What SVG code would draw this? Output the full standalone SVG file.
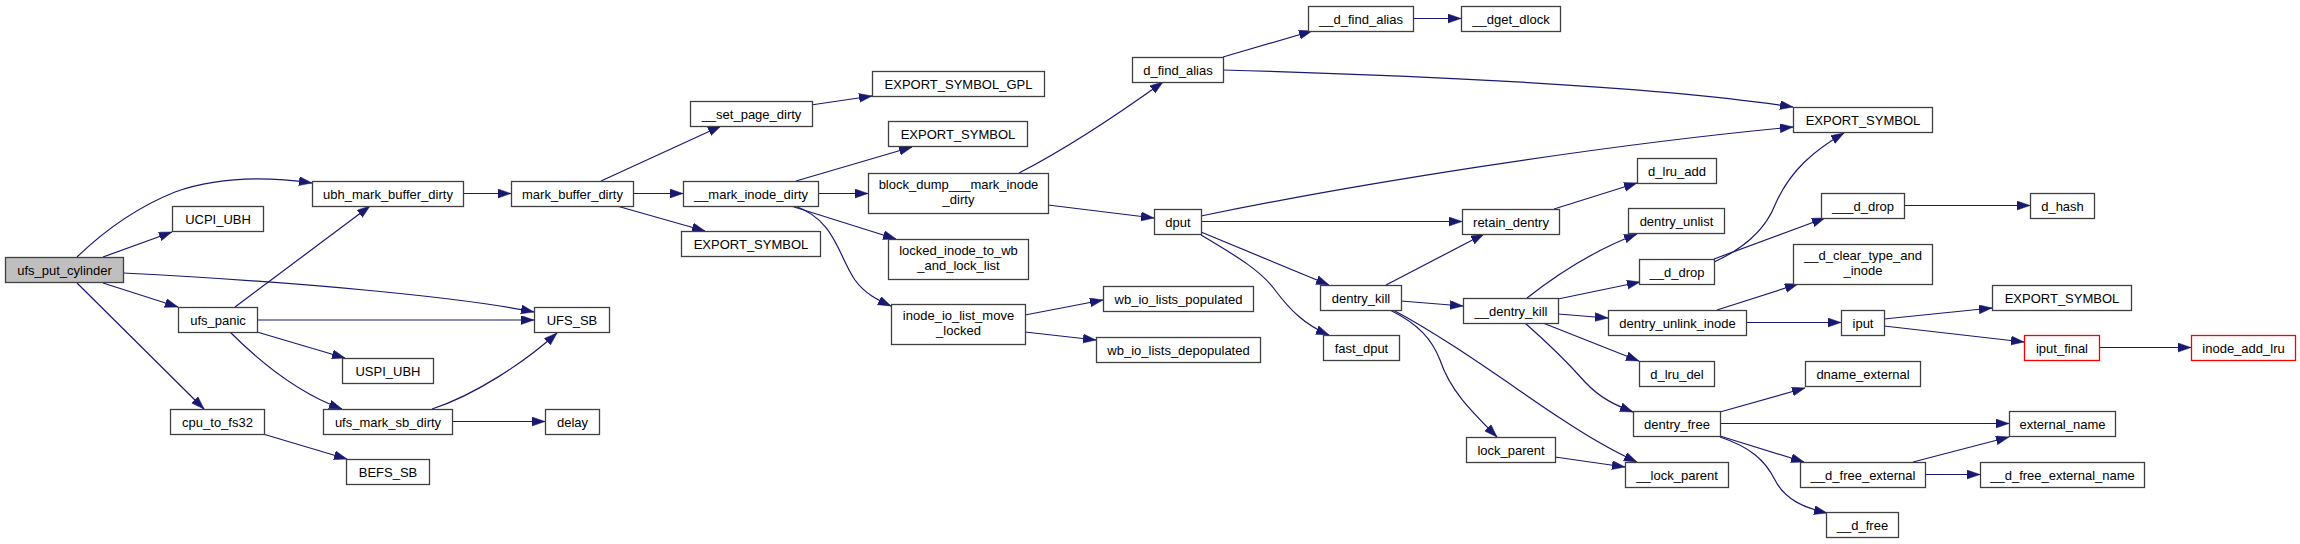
<svg xmlns="http://www.w3.org/2000/svg" width="2300" height="544" viewBox="0 0 2300 544">
<style>
.node rect{fill:#ffffff;stroke:#404040;stroke-width:1.3}
.node.root rect{fill:#bfbfbf}
.node.red rect{stroke:#ff0000}
.node text{font-family:"Liberation Sans",Arial,Helvetica,sans-serif;font-size:13px;fill:#000;text-anchor:middle}
.edges path{fill:none;stroke:#191970;stroke-width:1.2;marker-end:url(#arr)}
</style>
<defs>
<marker id="arr" markerUnits="userSpaceOnUse" markerWidth="14" markerHeight="10" refX="13" refY="4.5" orient="auto">
<path d="M0,0 L13,4.5 L0,9 Z" fill="#191970" stroke="#191970" stroke-width="0.5"/>
</marker>
</defs>
<rect width="2300" height="544" fill="#ffffff"/>
<g class="edges">
<path d="M77,257 C105,230 135,208 175,192 C220,176 270,177 312,183"/>
<path d="M103,257 L172,232"/>
<path d="M123,273 C300,282 460,297 534,312"/>
<path d="M103,283 L178,307"/>
<path d="M77,283 L204,409"/>
<path d="M235,307 L370,206"/>
<path d="M257,320 L534,320"/>
<path d="M257,332 L345,358"/>
<path d="M230,332 C250,352 290,390 342,409"/>
<path d="M432,409 C475,395 525,362 557,333"/>
<path d="M452,421.5 L545,421.5"/>
<path d="M263,434 L347,459"/>
<path d="M463,193.5 L511,193.5"/>
<path d="M601,181 L721,126"/>
<path d="M623,193.5 L683,193.5"/>
<path d="M617,206 L705,231"/>
<path d="M811,105 L872,96"/>
<path d="M796,181 L912,147"/>
<path d="M818,193.5 L868,193.5"/>
<path d="M791,206 L896,239"/>
<path d="M795,206 C835,220 838,255 855,280 C865,294 878,300 891,306"/>
<path d="M1025,315 L1103,300"/>
<path d="M1025,332 L1096,340"/>
<path d="M1019,173 C1060,152 1110,120 1163,82"/>
<path d="M1048,205 L1154,218"/>
<path d="M1223,57 L1312,31"/>
<path d="M1223,70 C1400,75 1650,85 1793,107"/>
<path d="M1413,18.5 L1461,18.5"/>
<path d="M1201,216 C1350,185 1600,145 1793,127"/>
<path d="M1201,221.5 L1462,221.5"/>
<path d="M1201,232 L1329,285"/>
<path d="M1201,235 C1240,258 1262,272 1275,290 C1290,310 1305,325 1329,335"/>
<path d="M1386,285 L1484,234"/>
<path d="M1401,301 L1463,306"/>
<path d="M1390,310 C1420,325 1432,340 1440,360 C1450,390 1470,410 1497,437"/>
<path d="M1393,310 C1450,340 1520,392 1560,418 C1590,438 1615,452 1637,462"/>
<path d="M1554,209 L1637,183"/>
<path d="M1527,298 C1560,272 1595,250 1637,234"/>
<path d="M1558,299 L1640,282"/>
<path d="M1558,314 L1608,318"/>
<path d="M1543,323 L1639,361"/>
<path d="M1525,323 C1550,345 1570,365 1585,382 C1600,398 1615,405 1633,412"/>
<path d="M1714,259 L1825,218"/>
<path d="M1714,262 C1745,248 1765,230 1775,205 C1790,170 1815,150 1844,133"/>
<path d="M1904,205.5 L2030,205.5"/>
<path d="M1717,310 L1798,284"/>
<path d="M1746,322.5 L1841,322.5"/>
<path d="M1884,319 L1992,308"/>
<path d="M1884,326 L2024,342"/>
<path d="M2099,347.5 L2191,347.5"/>
<path d="M1720,412 L1805,388"/>
<path d="M1720,423.5 L2009,423.5"/>
<path d="M1720,436 L1804,462"/>
<path d="M1720,437 C1750,447 1765,460 1775,480 C1785,500 1805,508 1827,513"/>
<path d="M1913,462 L2009,437"/>
<path d="M1925,474.5 L1980,474.5"/>
<path d="M1555,457 L1625,467"/>
</g>
<g id="ufs_put_cylinder" class="node root"><rect x="5.5" y="257.5" width="118" height="25"/><text x="64.5" y="274.5">ufs_put_cylinder</text></g>
<g id="ubh_mark_buffer_dirty" class="node"><rect x="312.5" y="181.5" width="151" height="25"/><text x="388" y="198.5">ubh_mark_buffer_dirty</text></g>
<g id="UCPI_UBH" class="node"><rect x="172.5" y="206.5" width="91" height="25"/><text x="218" y="223.5">UCPI_UBH</text></g>
<g id="ufs_panic" class="node"><rect x="178.5" y="307.5" width="79" height="25"/><text x="218" y="324.5">ufs_panic</text></g>
<g id="USPI_UBH" class="node"><rect x="342.5" y="358.5" width="91" height="25"/><text x="388" y="375.5">USPI_UBH</text></g>
<g id="cpu_to_fs32" class="node"><rect x="170.5" y="409.5" width="94" height="25"/><text x="217.5" y="426.5">cpu_to_fs32</text></g>
<g id="ufs_mark_sb_dirty" class="node"><rect x="323.5" y="409.5" width="129" height="25"/><text x="388" y="426.5">ufs_mark_sb_dirty</text></g>
<g id="UFS_SB" class="node"><rect x="534.5" y="307.5" width="75" height="25"/><text x="572" y="324.5">UFS_SB</text></g>
<g id="delay" class="node"><rect x="545.5" y="409.5" width="54" height="25"/><text x="572.5" y="426.5">delay</text></g>
<g id="BEFS_SB" class="node"><rect x="346.5" y="459.5" width="83" height="25"/><text x="388" y="476.5">BEFS_SB</text></g>
<g id="mark_buffer_dirty" class="node"><rect x="511.5" y="181.5" width="122" height="25"/><text x="572.5" y="198.5">mark_buffer_dirty</text></g>
<g id="__set_page_dirty" class="node"><rect x="690.5" y="101.5" width="122" height="25"/><text x="751.5" y="118.5">__set_page_dirty</text></g>
<g id="EXPORT_SYMBOL_1" class="node"><rect x="681.5" y="231.5" width="139" height="25"/><text x="751" y="248.5">EXPORT_SYMBOL</text></g>
<g id="__mark_inode_dirty" class="node"><rect x="683.5" y="181.5" width="135" height="25"/><text x="751" y="198.5">__mark_inode_dirty</text></g>
<g id="EXPORT_SYMBOL_GPL" class="node"><rect x="872.5" y="71.5" width="172" height="25"/><text x="958.5" y="88.5">EXPORT_SYMBOL_GPL</text></g>
<g id="EXPORT_SYMBOL_2" class="node"><rect x="888.5" y="121.5" width="139" height="25"/><text x="958" y="138.5">EXPORT_SYMBOL</text></g>
<g id="block_dump___mark_inode_dirty" class="node"><rect x="868.5" y="173.5" width="180" height="40"/><text x="958.5" y="189">block_dump___mark_inode</text><text x="958.5" y="204">_dirty</text></g>
<g id="locked_inode_to_wb_and_lock_list" class="node"><rect x="888.5" y="239.5" width="140" height="40"/><text x="958.5" y="255">locked_inode_to_wb</text><text x="958.5" y="270">_and_lock_list</text></g>
<g id="inode_io_list_move_locked" class="node"><rect x="891.5" y="304.5" width="134" height="40"/><text x="958.5" y="320">inode_io_list_move</text><text x="958.5" y="335">_locked</text></g>
<g id="wb_io_lists_populated" class="node"><rect x="1103.5" y="286.5" width="150" height="25"/><text x="1178.5" y="303.5">wb_io_lists_populated</text></g>
<g id="wb_io_lists_depopulated" class="node"><rect x="1096.5" y="337.5" width="164" height="25"/><text x="1178.5" y="354.5">wb_io_lists_depopulated</text></g>
<g id="d_find_alias" class="node"><rect x="1132.5" y="57.5" width="91" height="25"/><text x="1178" y="74.5">d_find_alias</text></g>
<g id="__d_find_alias" class="node"><rect x="1308.5" y="6.5" width="105" height="25"/><text x="1361" y="23.5">__d_find_alias</text></g>
<g id="__dget_dlock" class="node"><rect x="1461.5" y="6.5" width="99" height="25"/><text x="1511" y="23.5">__dget_dlock</text></g>
<g id="dput" class="node"><rect x="1154.5" y="209.5" width="47" height="25"/><text x="1178" y="226.5">dput</text></g>
<g id="dentry_kill" class="node"><rect x="1320.5" y="285.5" width="81" height="25"/><text x="1361" y="302.5">dentry_kill</text></g>
<g id="fast_dput" class="node"><rect x="1323.5" y="335.5" width="76" height="25"/><text x="1361.5" y="352.5">fast_dput</text></g>
<g id="retain_dentry" class="node"><rect x="1462.5" y="209.5" width="97" height="25"/><text x="1511" y="226.5">retain_dentry</text></g>
<g id="__dentry_kill" class="node"><rect x="1463.5" y="298.5" width="95" height="25"/><text x="1511" y="315.5">__dentry_kill</text></g>
<g id="lock_parent" class="node"><rect x="1466.5" y="437.5" width="89" height="25"/><text x="1511" y="454.5">lock_parent</text></g>
<g id="EXPORT_SYMBOL_3" class="node"><rect x="1793.5" y="107.5" width="139" height="25"/><text x="1863" y="124.5">EXPORT_SYMBOL</text></g>
<g id="d_lru_add" class="node"><rect x="1637.5" y="158.5" width="79" height="25"/><text x="1677" y="175.5">d_lru_add</text></g>
<g id="dentry_unlist" class="node"><rect x="1628.5" y="208.5" width="96" height="25"/><text x="1676.5" y="225.5">dentry_unlist</text></g>
<g id="__d_drop" class="node"><rect x="1639.5" y="259.5" width="75" height="25"/><text x="1677" y="276.5">__d_drop</text></g>
<g id="___d_drop" class="node"><rect x="1821.5" y="193.5" width="83" height="25"/><text x="1863" y="210.5">___d_drop</text></g>
<g id="d_hash" class="node"><rect x="2030.5" y="193.5" width="64" height="25"/><text x="2062.5" y="210.5">d_hash</text></g>
<g id="__d_clear_type_and_inode" class="node"><rect x="1793.5" y="244.5" width="139" height="40"/><text x="1863" y="260">__d_clear_type_and</text><text x="1863" y="275">_inode</text></g>
<g id="EXPORT_SYMBOL_4" class="node"><rect x="1992.5" y="285.5" width="139" height="25"/><text x="2062" y="302.5">EXPORT_SYMBOL</text></g>
<g id="dentry_unlink_inode" class="node"><rect x="1608.5" y="310.5" width="138" height="25"/><text x="1677.5" y="327.5">dentry_unlink_inode</text></g>
<g id="iput" class="node"><rect x="1841.5" y="310.5" width="43" height="25"/><text x="1863" y="327.5">iput</text></g>
<g id="iput_final" class="node red"><rect x="2024.5" y="335.5" width="75" height="25"/><text x="2062" y="352.5">iput_final</text></g>
<g id="inode_add_lru" class="node red"><rect x="2191.5" y="335.5" width="104" height="25"/><text x="2243.5" y="352.5">inode_add_lru</text></g>
<g id="d_lru_del" class="node"><rect x="1639.5" y="361.5" width="75" height="25"/><text x="1677" y="378.5">d_lru_del</text></g>
<g id="dname_external" class="node"><rect x="1805.5" y="361.5" width="115" height="25"/><text x="1863" y="378.5">dname_external</text></g>
<g id="dentry_free" class="node"><rect x="1633.5" y="411.5" width="87" height="25"/><text x="1677" y="428.5">dentry_free</text></g>
<g id="external_name" class="node"><rect x="2009.5" y="411.5" width="106" height="25"/><text x="2062.5" y="428.5">external_name</text></g>
<g id="__lock_parent" class="node"><rect x="1625.5" y="462.5" width="103" height="25"/><text x="1677" y="479.5">__lock_parent</text></g>
<g id="__d_free_external" class="node"><rect x="1800.5" y="462.5" width="125" height="25"/><text x="1863" y="479.5">__d_free_external</text></g>
<g id="__d_free_external_name" class="node"><rect x="1980.5" y="462.5" width="164" height="25"/><text x="2062.5" y="479.5">__d_free_external_name</text></g>
<g id="__d_free" class="node"><rect x="1826.5" y="512.5" width="72" height="25"/><text x="1862.5" y="529.5">__d_free</text></g>
</svg>
